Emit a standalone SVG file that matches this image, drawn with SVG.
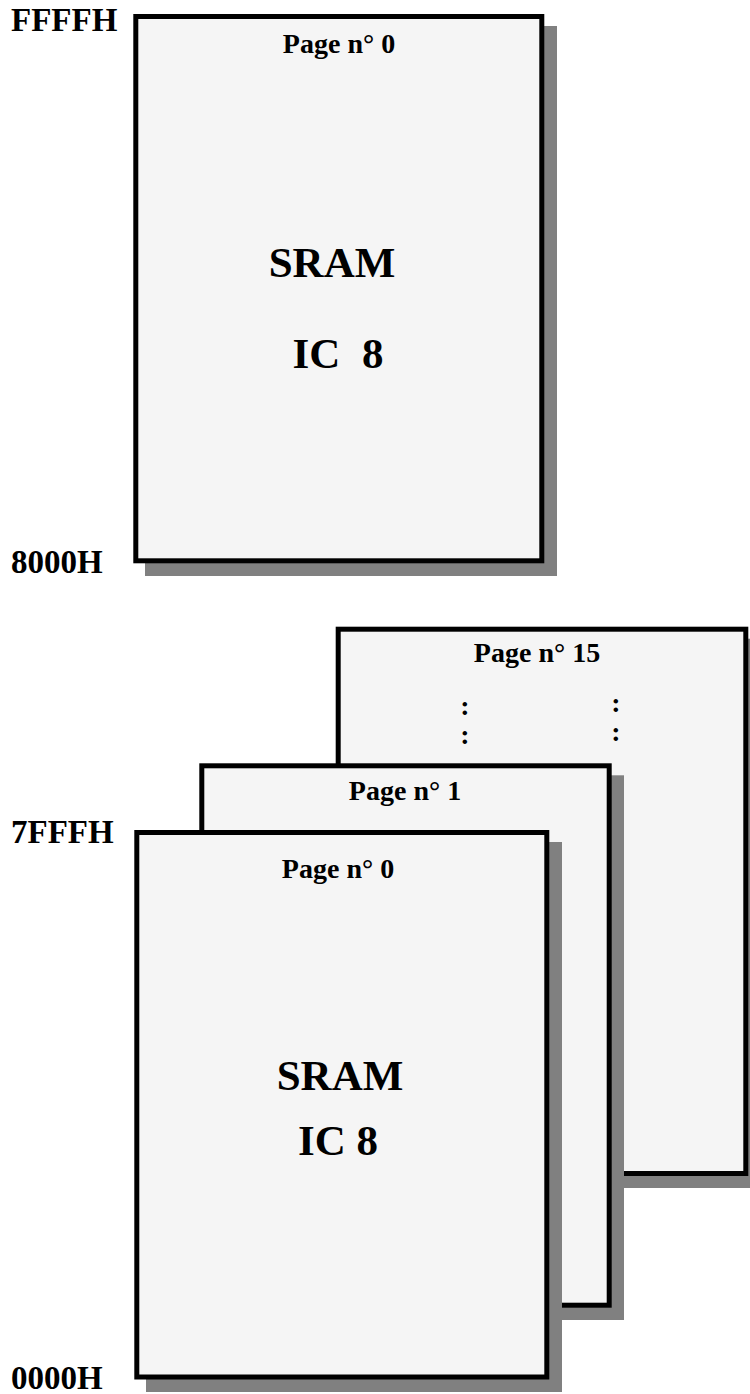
<svg xmlns="http://www.w3.org/2000/svg" width="750" height="1394" viewBox="0 0 750 1394">
<style>
.box{fill:#f5f5f5;stroke:#000;stroke-width:5}
.shadow{fill:#808080}
text{font-family:"Liberation Serif","Times New Roman",serif;font-weight:bold;fill:#000}
.addr{font-size:33px}
.page{font-size:28px;text-anchor:middle}
.big{font-size:43px;text-anchor:middle}
.dots{font-size:28px;text-anchor:middle}
</style>
<rect width="750" height="1394" fill="#fff"/>
<g id="addr-labels">
<text class="addr" x="11" y="31">FFFFH</text>
<text class="addr" x="11" y="573">8000H</text>
<text class="addr" x="11" y="843">7FFFH</text>
<text class="addr" x="11" y="1389">0000H</text>
</g>
<g id="upper-page0">
<rect class="shadow" x="145" y="26" width="412" height="550"/>
<rect class="box" x="135.8" y="16.5" width="406" height="544.3"/>
<text class="page" x="339" y="53">Page n° 0</text>
<text class="big" x="332" y="277">SRAM</text>
<text class="big" x="338" y="368" xml:space="preserve">IC  8</text>
</g>
<g id="lower-page15">
<rect class="shadow" x="347.7" y="638.7" width="412" height="549.3"/>
<rect class="box" x="338.2" y="629.2" width="407.6" height="544.3"/>
<text class="page" x="537" y="662">Page n° 15</text>
<text class="dots" x="465" y="715">:</text>
<text class="dots" x="465" y="744">:</text>
<text class="dots" x="616" y="712">:</text>
<text class="dots" x="616" y="741">:</text>
</g>
<g id="lower-page1">
<rect class="shadow" x="211.3" y="775.3" width="412.7" height="544.7"/>
<rect class="box" x="201.8" y="765.8" width="407.4" height="539.4"/>
<text class="page" x="405" y="800">Page n° 1</text>
</g>
<g id="lower-page0">
<rect class="shadow" x="146" y="842" width="416" height="550"/>
<rect class="box" x="136.8" y="832.5" width="410" height="544.5"/>
<text class="page" x="338" y="878">Page n° 0</text>
<text class="big" x="340" y="1090">SRAM</text>
<text class="big" x="338" y="1155">IC 8</text>
</g>
<g id="connectors"/>
</svg>
